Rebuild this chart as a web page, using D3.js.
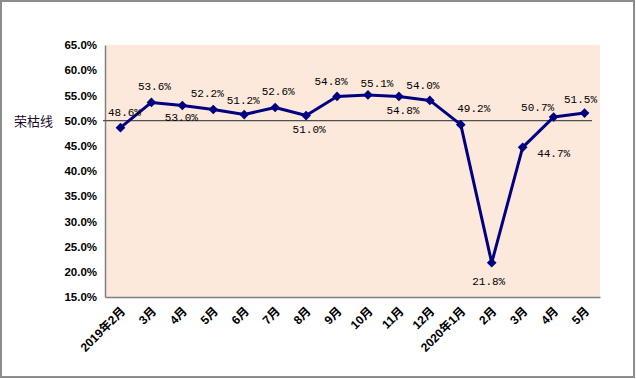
<!DOCTYPE html>
<html>
<head>
<meta charset="utf-8">
<script src="https://cdn.jsdelivr.net/npm/d3@7"></script>
<style>
  body { margin: 0; background: #fff; }
  svg { display: block; }
</style>
</head>
<body>
<svg id="chart" width="636" height="379"></svg>
<script>
/* global d3 */

const months = ['2019年2月', '3月', '4月', '5月', '6月', '7月', '8月', '9月', '10月', '11月', '12月',
    '2020年1月', '2月', '3月', '4月', '5月'];
const pmi = [48.6, 53.6, 53.0, 52.2, 51.2, 52.6, 51.0, 54.8, 55.1, 54.8, 54.0, 49.2, 21.8, 44.7, 50.7, 51.5];
const yTicks = [15, 20, 25, 30, 35, 40, 45, 50, 55, 60, 65];
const threshold = 50;
const thresholdLabel = '荣枯线';

// label nudges (dx, dy from the marker), as they were dragged in the original
const labelNudge = [[4, -15], [3, -15], [-1, 13], [-6, -16], [-1, -14], [3, -15], [3, 14], [-6, -14],
    [9, -11], [4, 15], [-7, -14], [13, -16], [-3, 19], [31, 7], [-16, -9], [-4, -13]];

const svg = d3.select('#chart');
const plot = { left: 105, right: 600, top: 45, bottom: 297 };

// outer frame
svg.append('rect')
    .attr('x', 1).attr('y', 1)
    .attr('width', 633).attr('height', 376)
    .attr('fill', '#fff')
    .attr('stroke', '#8c8c8c')
    .attr('stroke-width', 2);

const x = d3.scalePoint()
    .domain(d3.range(months.length))
    .range([plot.left, plot.right])
    .padding(0.5);

const y = d3.scaleLinear()
    .domain([15, 65])
    .range([plot.bottom, plot.top]);

svg.append('rect')
    .attr('x', plot.left).attr('y', plot.top)
    .attr('width', plot.right - plot.left)
    .attr('height', plot.bottom - plot.top)
    .attr('fill', '#fde9db');

// y axis labels
const yAxis = svg.append('g')
    .attr('transform', 'translate(' + plot.left + ',0)')
    .call(d3.axisLeft(y).tickValues(yTicks).tickSize(0).tickPadding(8)
        .tickFormat(d => d3.format('.1f')(d) + '%'));
yAxis.select('.domain').attr('stroke', '#808080').attr('stroke-width', 1.5);
yAxis.selectAll('text')
    .attr('font-family', '"Liberation Sans", Arial, sans-serif')
    .attr('font-weight', 'bold')
    .attr('font-size', 11.5)
    .attr('fill', '#000');

// x axis labels
const xAxis = svg.append('g')
    .attr('transform', 'translate(0,' + plot.bottom + ')')
    .call(d3.axisBottom(x).tickSize(0).tickFormat(i => months[i]));
xAxis.select('.domain').attr('stroke', '#808080').attr('stroke-width', 1.5);
xAxis.selectAll('text')
    .attr('font-family', '"Liberation Sans", "Noto Sans CJK SC", sans-serif')
    .attr('font-weight', 'bold')
    .attr('font-size', 12)
    .attr('fill', '#000')
    .attr('text-anchor', 'end')
    .attr('dy', null)
    .attr('y', 0)
    .attr('transform', 'translate(5,15) rotate(-45)');

// 50% line
svg.append('line')
    .attr('x1', plot.left - 2).attr('x2', plot.right - 8)
    .attr('y1', y(threshold)).attr('y2', y(threshold))
    .attr('stroke', '#505050')
    .attr('stroke-width', 1.3);

svg.append('text')
    .attr('x', 14).attr('y', y(threshold))
    .attr('dominant-baseline', 'central')
    .attr('font-family', '"Noto Sans CJK SC", sans-serif')
    .attr('font-size', 13)
    .attr('fill', '#1a0a2e')
    .text(thresholdLabel);

const line = d3.line()
    .x((d, i) => x(i))
    .y(d => y(d));

svg.append('path')
    .datum(pmi)
    .attr('d', line)
    .attr('fill', 'none')
    .attr('stroke', '#000080')
    .attr('stroke-width', 3)
    .attr('stroke-linejoin', 'round');

svg.selectAll('.marker')
    .data(pmi)
    .join('path')
    .attr('class', 'marker')
    .attr('d', d3.symbol().type(d3.symbolDiamond2).size(60))
    .attr('transform', (d, i) => 'translate(' + x(i) + ',' + y(d) + ')')
    .attr('fill', '#000080');

svg.selectAll('.label')
    .data(pmi)
    .join('text')
    .attr('class', 'label')
    .attr('x', (d, i) => x(i) + labelNudge[i][0])
    .attr('y', (d, i) => y(d) + labelNudge[i][1])
    .attr('text-anchor', 'middle')
    .attr('dominant-baseline', 'central')
    .attr('font-family', '"Liberation Mono", "DejaVu Sans Mono", monospace')
    .attr('font-size', 11)
    .attr('fill', '#000')
    .text(d => d.toFixed(1) + '%');
</script>
</body>
</html>
